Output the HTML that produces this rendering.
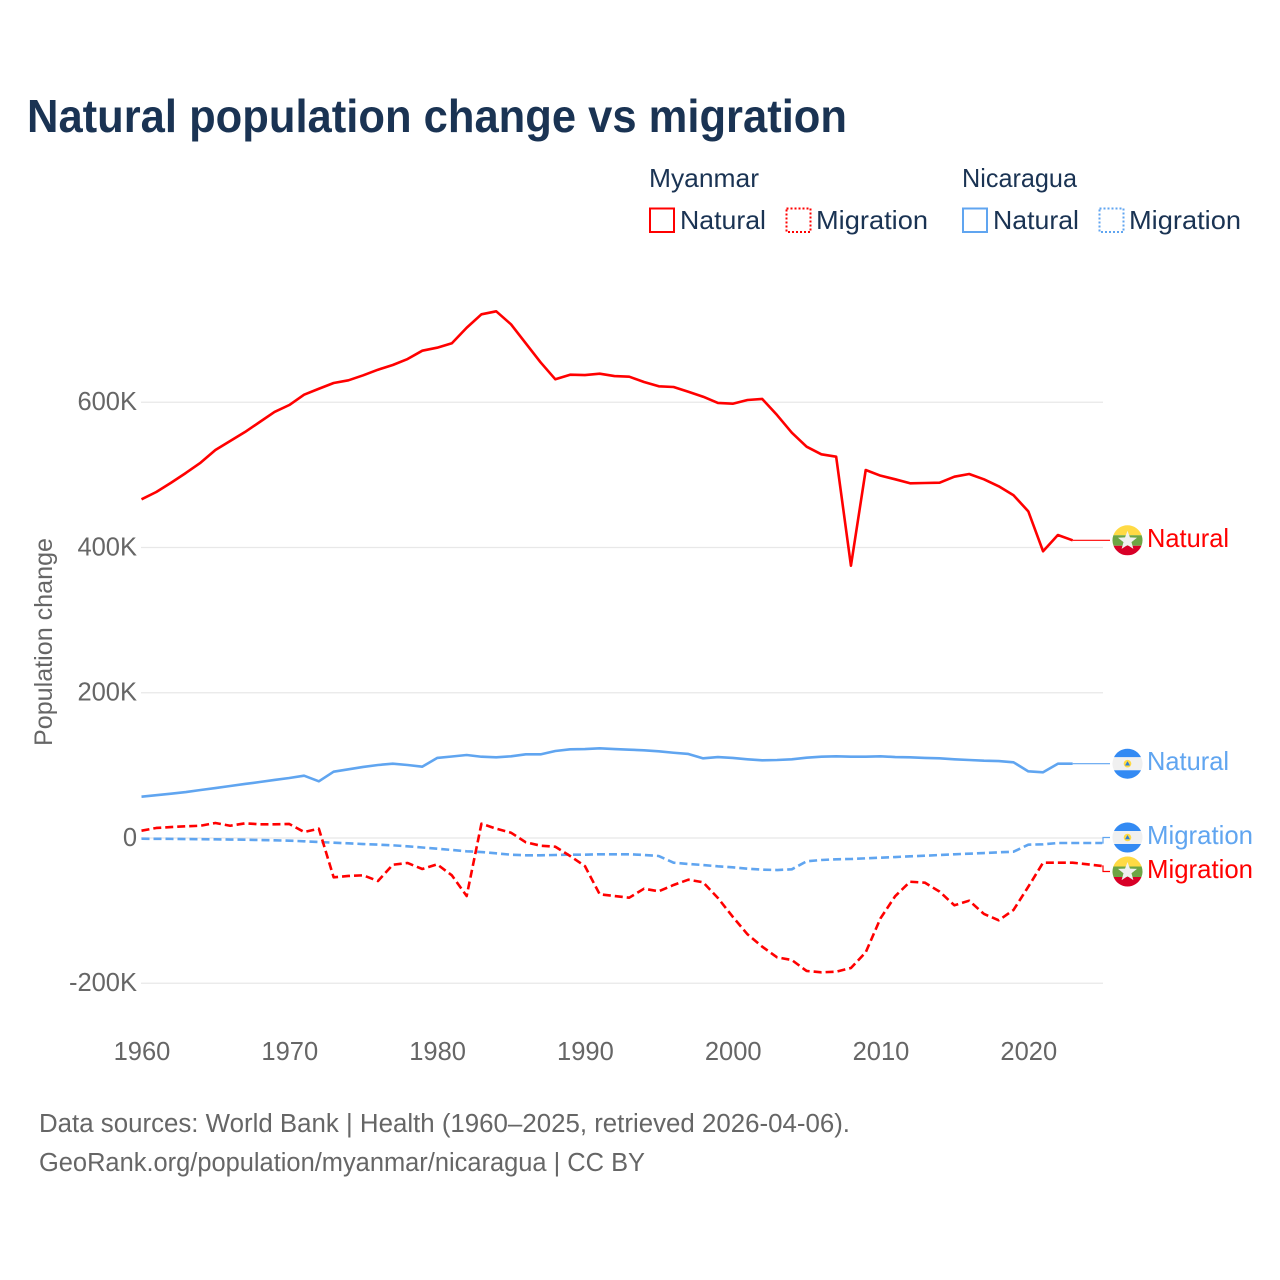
<!DOCTYPE html>
<html lang="en">
<head>
<meta charset="utf-8">
<title>Natural population change vs migration</title>
<style>
html,body{margin:0;padding:0;background:#fff;}
svg{display:block;}
text{font-family:"Liberation Sans",sans-serif;}
</style>
</head>
<body>
<svg id="chart" xmlns="http://www.w3.org/2000/svg" width="1280" height="1280" viewBox="0 0 1280 1280">
  <rect x="0" y="0" width="1280" height="1280" fill="#ffffff"/>
  <text x="27" y="132" font-size="46" font-weight="700" fill="#1a3353" textLength="820" lengthAdjust="spacingAndGlyphs">Natural population change vs migration</text>

  <g font-size="26" fill="#1a3353">
    <text x="649" y="187" textLength="110" lengthAdjust="spacingAndGlyphs">Myanmar</text>
    <text x="962" y="187" textLength="115" lengthAdjust="spacingAndGlyphs">Nicaragua</text>
    <rect x="650" y="208.5" width="24" height="23.5" fill="none" stroke="#ff0000" stroke-width="2"/>
    <text x="680" y="229" textLength="86" lengthAdjust="spacingAndGlyphs">Natural</text>
    <rect x="786.5" y="208.5" width="24" height="23.5" fill="none" stroke="#ff0000" stroke-width="2" stroke-dasharray="2 2"/>
    <text x="816" y="229" textLength="112" lengthAdjust="spacingAndGlyphs">Migration</text>
    <rect x="963" y="208.5" width="24" height="23.5" fill="none" stroke="#60a5f0" stroke-width="2"/>
    <text x="993" y="229" textLength="86" lengthAdjust="spacingAndGlyphs">Natural</text>
    <rect x="1099.5" y="208.5" width="24" height="23.5" fill="none" stroke="#60a5f0" stroke-width="2" stroke-dasharray="2 2"/>
    <text x="1129" y="229" textLength="112" lengthAdjust="spacingAndGlyphs">Migration</text>
  </g>

  <text transform="translate(52,642) rotate(-90)" text-anchor="middle" font-size="25" fill="#666666" textLength="208" lengthAdjust="spacingAndGlyphs">Population change</text>

  <g id="grid"></g>
  <g id="yticks"></g>
  <g id="xticks"></g>
  <g id="series"></g>
  <g id="endlabels"></g>

  <g font-size="25.5" fill="#666666">
    <text x="39" y="1132" textLength="811" lengthAdjust="spacingAndGlyphs">Data sources: World Bank | Health (1960–2025, retrieved 2026-04-06).</text>
    <text x="39" y="1171" textLength="606" lengthAdjust="spacingAndGlyphs">GeoRank.org/population/myanmar/nicaragua | CC BY</text>
  </g>
</svg>
<script>
const startYear = 1960;
const xTickYears = [1960, 1970, 1980, 1990, 2000, 2010, 2020];
const yTickValues = [-200, 0, 200, 400, 600];
const yTickLabels = ['-200K', '0', '200K', '400K', '600K'];
const myanmarNatural = [466.4,476.4,489.2,502.6,516.8,534.2,546.6,559,572.8,586.6,596.2,610.4,618.6,626.5,630.2,637.1,644.8,651.3,659.5,671,675.1,681.2,702.6,721.1,725.2,707.3,681.2,655,631.6,637.9,637.5,639.3,636.1,635.2,627.9,622,621,614.5,607.6,599,598,603.1,604.5,582.4,558.1,538.8,528.3,525,374.9,506.7,498.9,493.9,488.4,488.8,489.2,497.5,501.2,493.9,484.3,471.9,449.8,394.8,417.2,409.9];
const myanmarMigration = [10.1,13.8,15.1,16.1,16.9,20.7,16.9,20.2,18.9,18.9,19.3,8.3,12.8,-54.1,-52.3,-51.4,-59.2,-36.8,-34.4,-42.7,-36.2,-51.4,-79.9,19.7,12.8,7.3,-5.9,-10.6,-12,-24.8,-38.6,-77.5,-79.9,-82.2,-69.8,-73.4,-64.7,-57.4,-61,-82.6,-108.4,-132.6,-149.7,-164.3,-168,-183.1,-184.9,-184.1,-179,-157.4,-110.6,-79.9,-60.2,-61.5,-73.9,-92.7,-86.3,-104.6,-113.3,-99.1,-67.1,-34,-34,-34,-36.2,-38.6];
const nicaraguaNatural = [56.9,58.9,61,63.3,66.1,68.8,71.6,74.4,77.1,79.9,82.6,85.8,78.1,91.3,94.6,97.8,100.5,102.3,100.5,98.2,110.2,112.2,114.3,111.9,111.1,112.5,115.2,115.2,119.8,122.1,122.5,123.5,122.5,121.6,120.8,119.4,117.4,115.7,109.7,111.5,110.2,108.4,107,107.4,108.4,110.6,111.9,112.5,111.9,111.9,112.5,111.5,111.1,110.2,109.7,108.4,107.4,106.4,106,104.2,91.8,90.5,102.3,102.3];
const nicaraguaMigration = [-1,-1.1,-1.2,-1.4,-1.7,-1.8,-2.1,-2.3,-2.8,-3.2,-3.7,-4.5,-5.5,-6.5,-7.3,-8.3,-9.1,-10.1,-11.4,-13.1,-14.7,-16.5,-18.3,-19.3,-21.1,-23,-23.8,-23.8,-23.4,-23,-23,-22.4,-22.4,-22.4,-23.4,-24.8,-34,-35.8,-37.2,-39,-40.3,-42.3,-43.6,-44.1,-43.1,-32.1,-30.3,-29.3,-28.9,-28,-27.1,-26.2,-25.2,-24.4,-23.4,-22.4,-21.6,-20.7,-19.7,-18.9,-9.2,-8.7,-6.9,-6.9,-6.9,-6.9];

const NS = 'http://www.w3.org/2000/svg';
const RED = '#ff0000';
const BLUE = '#60a5f0';
const xScale = function (year) { return 141.5 + (year - startYear) * 14.78; };
const yScale = function (v) { return 838 - v * 0.72625; };
const make = function (tag, parent) {
  const el = document.createElementNS(NS, tag);
  parent.appendChild(el);
  return el;
};
const setAll = function (el, attrs) {
  Object.keys(attrs).forEach(function (k) { el.setAttribute(k, attrs[k]); });
};

const grid = document.getElementById('grid');
const yticks = document.getElementById('yticks');
yTickValues.forEach(function (v, i) {
  const line = make('line', grid);
  
  
  setAll(line, { x1: 141, x2: 1103, y1: yScale(v), y2: yScale(v), stroke: '#e8e8e8', 'stroke-width': 1.2 });
  const t = make('text', yticks);
  
  
  setAll(t, { x: 137, y: yScale(v) + 7.8, 'text-anchor': 'end', 'font-size': 25.5, fill: '#666666' });
  t.textContent = yTickLabels[i];
});

const xticks = document.getElementById('xticks');
xTickYears.forEach(function (yr) {
  const t = make('text', xticks);
  
  
  setAll(t, { x: xScale(yr) + 0.5, y: 1060, 'text-anchor': 'middle', 'font-size': 25.5, fill: '#666666' });
  t.textContent = String(yr);
});

const seriesGroup = document.getElementById('series');
const drawLine = function (values, color, dashed, name) {
  const p = make('polyline', seriesGroup);
  
  
  const pts = values.map(function (v, i) {
    return xScale(startYear + i).toFixed(2) + ',' + yScale(v).toFixed(2);
  }).join(' ');
  setAll(p, { points: pts, fill: 'none', stroke: color, 'stroke-width': 2.6, 'stroke-linejoin': 'round' });
  if (dashed) { p.setAttribute('stroke-dasharray', '8 4'); }
};
drawLine(nicaraguaNatural, BLUE, false, 'line-nicaragua-natural');
drawLine(nicaraguaMigration, BLUE, true, 'line-nicaragua-migration');
drawLine(myanmarNatural, RED, false, 'line-myanmar-natural');
drawLine(myanmarMigration, RED, true, 'line-myanmar-migration');

const endGroup = document.getElementById('endlabels');
const drawFlag = function (cx, cy, country) {
  const g = make('g', endGroup);
  
  
  const band = function (y, h, fill) {
    const top = y, bot = y + h;
    const chord = function (yy) { return Math.sqrt(Math.max(0, 225 - yy * yy)); };
    const path = make('path', g);
    const a = chord(top), b = chord(bot);
    const d = 'M' + (cx - a) + ' ' + (cy + top) + 'A15 15 0 0 0 ' + (cx - b) + ' ' + (cy + bot) +
      'L' + (cx + b) + ' ' + (cy + bot) + 'A15 15 0 0 0 ' + (cx + a) + ' ' + (cy + top) + 'Z';
    setAll(path, { d: d, fill: fill });
  };
  if (country === 'myanmar') {
    band(-15, 10, '#ffda44');
    band(-5, 10.5, '#6da544');
    band(5.5, 9.5, '#d80027');
    const star = make('polygon', g);
    const pts = [];
    for (let i = 0; i < 10; i++) {
      const r = i % 2 === 0 ? 10 : 4.2;
      const ang = -Math.PI / 2 + i * Math.PI / 5;
      pts.push((cx + r * Math.cos(ang)).toFixed(2) + ',' + (cy + 0.5 + r * Math.sin(ang)).toFixed(2));
    }
    setAll(star, { points: pts.join(' '), fill: '#f0f0f0' });
  } else {
    band(-15, 8.5, '#338af3');
    band(-6.5, 13, '#f0f0f0');
    band(6.5, 8.5, '#338af3');
    const c = make('circle', g);
    setAll(c, { cx: cx, cy: cy, r: 3.8, fill: '#ffda44' });
    const tri = make('polygon', g);
    setAll(tri, { points: (cx - 2.5) + ',' + (cy + 1.8) + ' ' + (cx + 2.5) + ',' + (cy + 1.8) + ' ' + cx + ',' + (cy - 2.5), fill: '#2e7fd6' });
  }
};

const drawEnd = function (values, flagY, textY, color, country, label, name) {
  const lastIndex = values.length - 1;
  const x0 = xScale(startYear + lastIndex);
  const y0 = yScale(values[lastIndex]);
  const lead = make('polyline', endGroup);
  
  
  const midX = Math.min(x0 + 1, 1103);
  setAll(lead, { points: x0 + ',' + y0 + ' ' + midX + ',' + y0 + ' ' + midX + ',' + flagY + ' 1110,' + flagY, fill: 'none', stroke: color, 'stroke-width': 1.2 });
  drawFlag(1127.5, flagY, country);
  const t = make('text', endGroup);
  
  
  setAll(t, { x: 1147, y: textY, 'font-size': 26, fill: color, textLength: label === 'Natural' ? 82 : 106, lengthAdjust: 'spacingAndGlyphs' });
  t.textContent = label;
};
drawEnd(myanmarNatural, 540.3, 547, RED, 'myanmar', 'Natural', 'myanmar-natural');
drawEnd(nicaraguaNatural, 763.7, 770, BLUE, 'nicaragua', 'Natural', 'nicaragua-natural');
drawEnd(nicaraguaMigration, 837.5, 844, BLUE, 'nicaragua', 'Migration', 'nicaragua-migration');
drawEnd(myanmarMigration, 871.5, 878, RED, 'myanmar', 'Migration', 'myanmar-migration');
</script>
</body>
</html>
